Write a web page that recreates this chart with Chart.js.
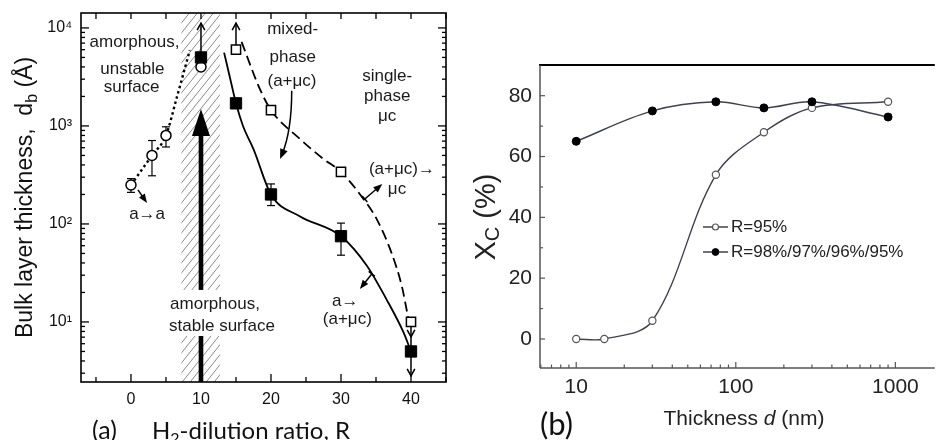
<!DOCTYPE html>
<html><head><meta charset="utf-8">
<script src="https://cdn.jsdelivr.net/npm/chart.js@4.4.1/dist/chart.umd.min.js"></script>
<style>
html,body{margin:0;padding:0;background:#fff;}
#wrap{position:relative;width:940px;height:440px;overflow:hidden;background:#fff;}
#ca{position:absolute;left:0;top:0;}
#cb{position:absolute;left:470px;top:0;}
</style></head><body>
<div id="wrap"><canvas id="ca" width="470" height="440"></canvas><canvas id="cb" width="470" height="440"></canvas></div>
<script>
// ================= Panel (a) data =================
const aCircleR = [0, 3, 5, 10];
const aCircleD = [250, 500, 800, 4000];
const aCircleErrLo = [210, 310, 610, null];
const aCircleErrHi = [290, 710, 980, null];
const aFilledR = [10, 15, 20, 30, 40];
const aFilledD = [5000, 1700, 200, 75, 5];
const aFilledErrLo = [null, null, 154, 48, null];
const aFilledErrHi = [null, null, 256, 102, null];
const aOpenSqR = [15, 20, 30, 40];
const aOpenSqD = [6000, 1450, 340, 10];
// guide curves
const aDottedR = [0, 3, 5, 6.5, 8.4];
const aDottedD = [250, 500, 800, 1900, 5900];
const aSolidR = [13.3, 14.1, 15, 16, 17.5, 20, 24.1, 30, 33.7, 36.5, 38.9, 40];
const aSolidD = [5600, 3200, 1700, 1000, 580, 200, 120, 75, 37.5, 17, 7.9, 5];
const aDashedR = [15.8, 16.0, 18.4, 20, 24.1, 27.5, 30, 33.2, 35.1, 37.2, 38.7, 39.6];
const aDashedD = [7200, 6600, 2390, 1450, 740, 460, 340, 180, 112, 51, 23, 11];
// ticks
const aTickR = [-5, 0, 5, 10, 15, 20, 25, 30, 35, 40, 45];
const aDecades = [10, 100, 1000, 10000];
const aDecadeLabels = ['10\u00B9', '10\u00B2', '10\u00B3', '10\u2074'];

// ================= Panel (b) data =================
const bThick95 = [10, 15, 30, 75, 150, 300, 900];
const bXc95 = [0, 0, 6, 54, 68, 76, 78];
const bThickMix = [10, 30, 75, 150, 300, 900];
const bXcMix = [65, 75, 78, 76, 78, 73];
const bTickX = [6, 7, 8, 9, 10, 20, 30, 40, 50, 60, 70, 80, 90, 100, 200, 300, 400, 500, 600, 700, 800, 900, 1000];
const bTickXLabels = [10, 100, 1000];
const bTickY = [0, 10, 20, 30, 40, 50, 60, 70, 80];
const bLegend = ['R=95%', 'R=98%/97%/96%/95%'];

const FA = '"Liberation Sans", Arial, "DejaVu Sans", sans-serif';
const FC = 'Lato, "Open Sans", sans-serif';
Chart.defaults.font.family = FA;

const pts = (xs, ys) => xs.map((x, i) => ({x: x, y: ys[i]}));

function drawRich(ctx, parts, x, y, align) {
  let w = 0;
  parts.forEach(p => { ctx.font = p.f; w += ctx.measureText(p.t).width; });
  let cx = align === 'center' ? x - w / 2 : x;
  ctx.textAlign = 'left';
  parts.forEach(p => { ctx.font = p.f; ctx.fillText(p.t, cx, y + (p.dy || 0)); cx += ctx.measureText(p.t).width; });
}
function seg(ctx, x1, y1, x2, y2) { ctx.beginPath(); ctx.moveTo(x1, y1); ctx.lineTo(x2, y2); ctx.stroke(); }
function headFilled(ctx, x, y, ang, len, hw) {
  ctx.beginPath();
  ctx.moveTo(x, y);
  ctx.lineTo(x - len * Math.cos(ang) + hw * Math.sin(ang), y - len * Math.sin(ang) - hw * Math.cos(ang));
  ctx.lineTo(x - len * Math.cos(ang) - hw * Math.sin(ang), y - len * Math.sin(ang) + hw * Math.cos(ang));
  ctx.closePath(); ctx.fill();
}
function headV(ctx, x, y, ang, len) {
  const a1 = ang + Math.PI - 0.5, a2 = ang + Math.PI + 0.5;
  ctx.beginPath();
  ctx.moveTo(x + len * Math.cos(a1), y + len * Math.sin(a1));
  ctx.lineTo(x, y);
  ctx.lineTo(x + len * Math.cos(a2), y + len * Math.sin(a2));
  ctx.stroke();
}

const pluginA = {
  id: 'pa',
  beforeDatasetsDraw(chart) {
    const {ctx, chartArea: ca} = chart;
    const xs = chart.scales.x, ys = chart.scales.y;
    const X = r => xs.getPixelForValue(r);
    const V = v => ys.getPixelForValue(v);
    const L = lv => ys.getPixelForValue(Math.pow(10, lv));
    ctx.save();
    // hatched band
    const hx0 = X(7.2), hx1 = X(12.7);
    ctx.save();
    ctx.beginPath(); ctx.rect(hx0, ca.top, hx1 - hx0, ca.bottom - ca.top); ctx.clip();
    ctx.strokeStyle = '#8a8a8a'; ctx.lineWidth = 1;
    const h = ca.bottom - ca.top, run = h / 1.25;
    ctx.beginPath();
    for (let k = hx0 - run; k < hx1 + 2; k += 8) { ctx.moveTo(k, ca.bottom); ctx.lineTo(k + run, ca.top); }
    ctx.stroke();
    ctx.restore();
    // big arrow
    const bx = X(10), tipY = L(3.173), baseY = L(2.898);
    ctx.fillStyle = '#000';
    ctx.fillRect(bx - 2.3, baseY - 1, 4.6, ca.bottom - baseY + 1);
    ctx.beginPath(); ctx.moveTo(bx, tipY); ctx.lineTo(bx - 9, baseY); ctx.lineTo(bx + 9, baseY); ctx.closePath(); ctx.fill();
    // white box behind lower text
    ctx.fillStyle = '#fff';
    ctx.fillRect(X(12.6) - 54, L(1.184) - 14, 110, L(0.959) - L(1.184) + 24);
    // error bars
    ctx.strokeStyle = '#000'; ctx.lineWidth = 1.2;
    const eb = (xr, lo, hi) => {
      if (lo == null) return;
      const px = X(xr), y1 = V(lo), y2 = V(hi);
      seg(ctx, px, y1, px, y2); seg(ctx, px - 4, y1, px + 4, y1); seg(ctx, px - 4, y2, px + 4, y2);
    };
    aCircleR.forEach((r, i) => eb(r, aCircleErrLo[i], aCircleErrHi[i]));
    aFilledR.forEach((r, i) => eb(r, aFilledErrLo[i], aFilledErrHi[i]));
    // limit arrows
    ctx.lineWidth = 1.5;
    seg(ctx, X(10), V(5000), X(10), L(4.05)); headV(ctx, X(10), L(4.05), -Math.PI / 2, 8);
    seg(ctx, X(15), V(6000), X(15), L(4.05)); headV(ctx, X(15), L(4.05), -Math.PI / 2, 8);
    seg(ctx, X(40), V(10), X(40), L(0.449));
    headV(ctx, X(40), L(0.847), Math.PI / 2, 8);
    headV(ctx, X(40), L(0.449), Math.PI / 2, 8);
    ctx.restore();
  },
  afterDatasetsDraw(chart) {
    const {ctx, chartArea: ca} = chart;
    const xs = chart.scales.x, ys = chart.scales.y;
    const X = r => xs.getPixelForValue(r);
    const L = lv => ys.getPixelForValue(Math.pow(10, lv));
    ctx.save();
    // frame
    ctx.strokeStyle = '#000'; ctx.lineWidth = 1.6;
    ctx.strokeRect(ca.left, ca.top, ca.right - ca.left, ca.bottom - ca.top);
    // ticks
    ctx.lineWidth = 1.3;
    xs.ticks.forEach(t => {
      const px = xs.getPixelForValue(t.value);
      const major = t.label !== '';
      seg(ctx, px, ca.bottom, px, ca.bottom - (major ? 8 : 5));
      seg(ctx, px, ca.top, px, ca.top + 6);
    });
    ys.ticks.forEach(t => {
      const py = ys.getPixelForValue(t.value);
      const len = t.label !== '' ? 8 : 4;
      seg(ctx, ca.left, py, ca.left + len, py);
      seg(ctx, ca.right, py, ca.right - len, py);
    });
    // annotations
    ctx.fillStyle = '#1a1a1a';
    ctx.font = '17px ' + FA;
    ctx.textAlign = 'center'; ctx.textBaseline = 'middle';
    const texts = [
      ['amorphous,', 0.5, 3.857], ['unstable', 0.2, 3.582], ['surface', 0.1, 3.398],
      ['mixed-', 23.1, 3.99], ['phase', 23.1, 3.704], ['(a+\u03BCc)', 23.0, 3.459],
      ['single-', 36.6, 3.51], ['phase', 36.6, 3.306], ['\u03BCc', 36.6, 3.102],
      ['(a+\u03BCc)\u2192', 38.7, 2.561], ['\u03BCc', 38.0, 2.357],
      ['a\u2192a', 2.3, 2.10],
      ['amorphous,', 12.0, 1.184], ['stable surface', 13.0, 0.959],
      ['a\u2192', 30.6, 1.214], ['(a+\u03BCc)', 30.9, 1.031]
    ];
    texts.forEach(t => ctx.fillText(t[0], X(t[1]), L(t[2])));
    // small arrows
    ctx.strokeStyle = '#000'; ctx.fillStyle = '#000'; ctx.lineWidth = 1.5;
    const arr = (r1, l1, r2, l2, tick) => {
      const x1 = X(r1), y1 = L(l1), x2 = X(r2), y2 = L(l2);
      const a = Math.atan2(y2 - y1, x2 - x1);
      seg(ctx, x1, y1, x2 - 5 * Math.cos(a), y2 - 5 * Math.sin(a));
      headFilled(ctx, x2, y2, a, 9, 3.5);
      if (tick) seg(ctx, x1 - 4 * Math.sin(a), y1 + 4 * Math.cos(a), x1 + 4 * Math.sin(a), y1 - 4 * Math.cos(a));
    };
    arr(1.0, 2.347, 2.29, 2.214, false);
    arr(33.4, 2.255, 35.9, 2.408, true);
    arr(34.4, 1.49, 32.7, 1.337, true);
    // curved arrow from mixed-phase label
    const sx = X(22.96), sy = L(3.36), cx = X(22.96), cy = L(2.95), ex = X(21.3), ey = L(2.663);
    const a = Math.atan2(ey - cy, ex - cx);
    ctx.beginPath(); ctx.moveTo(sx, sy); ctx.quadraticCurveTo(cx, cy, ex - 5 * Math.cos(a), ey - 5 * Math.sin(a)); ctx.stroke();
    headFilled(ctx, ex, ey, a, 10, 4);
    // axis titles
    ctx.fillStyle = '#111';
    ctx.textBaseline = 'alphabetic';
    ctx.save();
    ctx.translate(32, (ca.top + ca.bottom) / 2);
    ctx.rotate(-Math.PI / 2);
    drawRich(ctx, [
      {t: 'Bulk layer thickness,  d', f: '23px ' + FA},
      {t: 'b', f: '16px ' + FA, dy: 5},
      {t: ' (\u00C5)', f: '23px ' + FA}
    ], 0, 0, 'center');
    ctx.restore();
    drawRich(ctx, [
      {t: 'H', f: '24px ' + FC},
      {t: '2', f: '16px ' + FC, dy: 5},
      {t: '-dilution ratio, R', f: '24px ' + FC}
    ], 152, 439, 'left');
    drawRich(ctx, [{t: '(a)', f: '25px ' + FC}], 92, 439, 'left');
    ctx.restore();
  }
};

new Chart(document.getElementById('ca'), {
  type: 'scatter',
  data: { datasets: [
    {data: pts(aFilledR, aFilledD), pointStyle: 'rect', pointRadius: 8, pointBackgroundColor: '#000', pointBorderColor: '#000', pointBorderWidth: 1, showLine: false},
    {data: pts(aOpenSqR, aOpenSqD), pointStyle: 'rect', pointRadius: 6.5, pointBackgroundColor: '#fff', pointBorderColor: '#000', pointBorderWidth: 1.5, showLine: false},
    {data: pts(aCircleR, aCircleD), pointStyle: 'circle', pointRadius: 5, pointBackgroundColor: '#fff', pointBorderColor: '#000', pointBorderWidth: 1.5, showLine: false},
    {data: pts(aSolidR, aSolidD), showLine: true, pointRadius: 0, borderColor: '#000', borderWidth: 1.8, cubicInterpolationMode: 'monotone'},
    {data: pts(aDashedR, aDashedD), showLine: true, pointRadius: 0, borderColor: '#000', borderWidth: 1.8, borderDash: [10, 5], cubicInterpolationMode: 'monotone'},
    {data: pts(aDottedR, aDottedD), showLine: true, pointRadius: 0, borderColor: '#000', borderWidth: 2.4, borderDash: [2.5, 3], cubicInterpolationMode: 'monotone'}
  ]},
  options: {
    responsive: false, animation: false, devicePixelRatio: 1, events: [],
    layout: {padding: {left: 0, top: 13, right: 24, bottom: 0}},
    plugins: {legend: {display: false}, tooltip: {enabled: false}},
    scales: {
      x: {
        type: 'linear', min: -7.14, max: 45, bounds: 'data',
        afterBuildTicks: s => { s.ticks = aTickR.map(v => ({value: v})); },
        ticks: {autoSkip: false, maxRotation: 0, padding: 8, color: '#111', font: {size: 16},
          callback: v => (v % 10 === 0 ? String(v) : '')},
        grid: {display: false, drawTicks: false}, border: {display: false},
        afterFit: s => { s.height = 58; s.paddingLeft = 0; s.paddingRight = 0; }
      },
      y: {
        type: 'logarithmic', min: 2.44, max: 14200, bounds: 'data',
        afterBuildTicks: s => {
          const t = [];
          [1, 10, 100, 1000].forEach(d => { for (let m = 1; m <= 9; m++) { const v = m * d; if (v >= 3) t.push({value: v}); } });
          t.push({value: 10000});
          s.ticks = t;
        },
        ticks: {autoSkip: false, padding: 9, color: '#111', font: {size: 16},
          callback: v => { const i = aDecades.indexOf(v); return i >= 0 ? aDecadeLabels[i] : ''; }},
        grid: {display: false, drawTicks: false}, border: {display: false},
        afterFit: s => { s.width = 81; s.paddingTop = 0; s.paddingBottom = 0; }
      }
    }
  },
  plugins: [pluginA]
});

const lineB = '#404055';
const pluginB = {
  id: 'pb',
  afterDatasetsDraw(chart) {
    const {ctx, chartArea: ca} = chart;
    const xs = chart.scales.x, ys = chart.scales.y;
    ctx.save();
    ctx.strokeStyle = '#000'; ctx.lineWidth = 2;
    seg(ctx, ca.left - 1, ca.top, ca.right, ca.top);
    ctx.strokeStyle = '#555'; ctx.lineWidth = 1.5;
    seg(ctx, ca.left, ca.top, ca.left, ca.bottom);
    seg(ctx, ca.left, ca.bottom, ca.right, ca.bottom);
    ctx.lineWidth = 1.2;
    xs.ticks.forEach(t => {
      const px = xs.getPixelForValue(t.value);
      seg(ctx, px, ca.bottom, px, ca.bottom - (t.label !== '' ? 6 : 3.5));
    });
    ys.ticks.forEach(t => {
      const py = ys.getPixelForValue(t.value);
      seg(ctx, ca.left, py, ca.left + (t.label !== '' ? 5 : 3), py);
    });
    // legend
    const ds = chart.data.datasets;
    const rows = [[1, 227], [0, 252]];
    ctx.font = '17px ' + FA; ctx.textBaseline = 'middle'; ctx.textAlign = 'left';
    rows.forEach((r, k) => {
      const d = ds[r[0]], y = r[1];
      ctx.strokeStyle = d.borderColor; ctx.lineWidth = 1.5;
      seg(ctx, 233, y, 242, y); seg(ctx, 249, y, 258, y);
      ctx.beginPath(); ctx.arc(245.5, y, d.pointRadius - 0.6, 0, Math.PI * 2);
      ctx.fillStyle = d.pointBackgroundColor; ctx.fill();
      ctx.strokeStyle = d.pointBorderColor; ctx.lineWidth = d.pointBorderWidth; ctx.stroke();
      ctx.fillStyle = '#222';
      ctx.fillText(bLegend[k], 261, y);
    });
    // titles
    ctx.fillStyle = '#222'; ctx.textBaseline = 'alphabetic';
    drawRich(ctx, [
      {t: 'Thickness ', f: '21px ' + FA},
      {t: 'd', f: 'italic 21px ' + FA},
      {t: ' (nm)', f: '21px ' + FA}
    ], 274, 425, 'center');
    ctx.save();
    ctx.translate(25, 217);
    ctx.rotate(-Math.PI / 2);
    drawRich(ctx, [
      {t: 'X', f: '29px ' + FA},
      {t: 'C', f: '20px ' + FA, dy: 4},
      {t: ' (%)', f: '29px ' + FA}
    ], 0, 0, 'center');
    ctx.restore();
    ctx.fillStyle = '#111';
    drawRich(ctx, [{t: '(b)', f: '31px ' + FC}], 70, 435, 'left');
    ctx.restore();
  }
};

new Chart(document.getElementById('cb'), {
  type: 'scatter',
  data: { datasets: [
    {data: pts(bThickMix, bXcMix), showLine: true, tension: 0.35, borderColor: lineB, borderWidth: 1.4,
      pointStyle: 'circle', pointRadius: 4, pointBackgroundColor: '#000', pointBorderColor: '#000', pointBorderWidth: 1},
    {data: pts(bThick95, bXc95), showLine: true, tension: 0.35, borderColor: lineB, borderWidth: 1.4,
      pointStyle: 'circle', pointRadius: 3.6, pointBackgroundColor: '#fff', pointBorderColor: '#555', pointBorderWidth: 1.2}
  ]},
  options: {
    responsive: false, animation: false, devicePixelRatio: 1, events: [],
    layout: {padding: {left: 0, top: 65, right: 0, bottom: 0}},
    plugins: {legend: {display: false}, tooltip: {enabled: false}},
    scales: {
      x: {
        type: 'logarithmic', min: 5.93, max: 1766, bounds: 'data',
        afterBuildTicks: s => { s.ticks = bTickX.map(v => ({value: v})); },
        ticks: {autoSkip: false, maxRotation: 0, padding: 7, color: '#222', font: {size: 21},
          callback: v => (bTickXLabels.indexOf(v) >= 0 ? String(v) : '')},
        grid: {display: false, drawTicks: false}, border: {display: false},
        afterFit: s => { s.height = 72; s.paddingLeft = 0; s.paddingRight = 0; }
      },
      y: {
        type: 'linear', min: -9.54, max: 90.1, bounds: 'data',
        afterBuildTicks: s => { s.ticks = bTickY.map(v => ({value: v})); },
        ticks: {autoSkip: false, padding: 8, color: '#222', font: {size: 21},
          callback: v => (v % 20 === 0 ? String(v) : '')},
        grid: {display: false, drawTicks: false}, border: {display: false},
        afterFit: s => { s.width = 70; s.paddingTop = 0; s.paddingBottom = 0; }
      }
    }
  },
  plugins: [pluginB]
});
</script>
</body></html>
